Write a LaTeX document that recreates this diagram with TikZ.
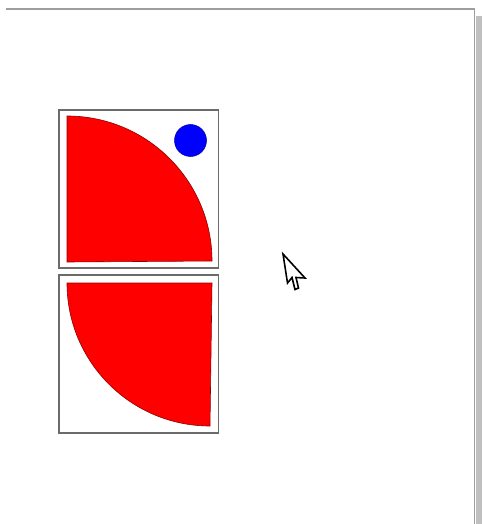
\documentclass[tikz,border=0pt]{standalone}
\begin{document}
\begin{tikzpicture}[x=1pt,y=-1pt,
  framebox/.style={draw=black!58,line width=1.8pt,fill=white},
  quarter/.style={fill=red,draw=red!55!black,line width=0.6pt},
  dot/.style={fill=blue,draw=blue!60!black,line width=0.5pt},
  cursor/.style={fill=white,draw=black,line width=1.6pt,line join=miter}]
\useasboundingbox (0,0) rectangle (482,524);
\fill[white] (0,0) rectangle (482,524);
% window edges
\fill[black!25] (476,16) rectangle (482,524);
\draw[black!38,line width=1.8pt] (6,9) -- (474.5,9) -- (474.5,524);
% top panel
\draw[framebox] (59,110) rectangle (218.5,268);
\draw[quarter] (67,262) -- (67,116) arc[start angle=270,end angle=360,radius=145] -- cycle;
\draw[dot] (190.5,140.5) circle[radius=16];
% bottom panel
\draw[framebox] (59,275) rectangle (218.5,433);
\draw[quarter] (212,283) -- (67,283) arc[start angle=180,end angle=90,radius=143] -- cycle;
% mouse pointer
\draw[cursor] (283,254) -- (287.5,283) -- (292,277.5) -- (295,289.5) -- (298.5,288) -- (296,277.5) -- (305,278) -- cycle;
\end{tikzpicture}
\end{document}
